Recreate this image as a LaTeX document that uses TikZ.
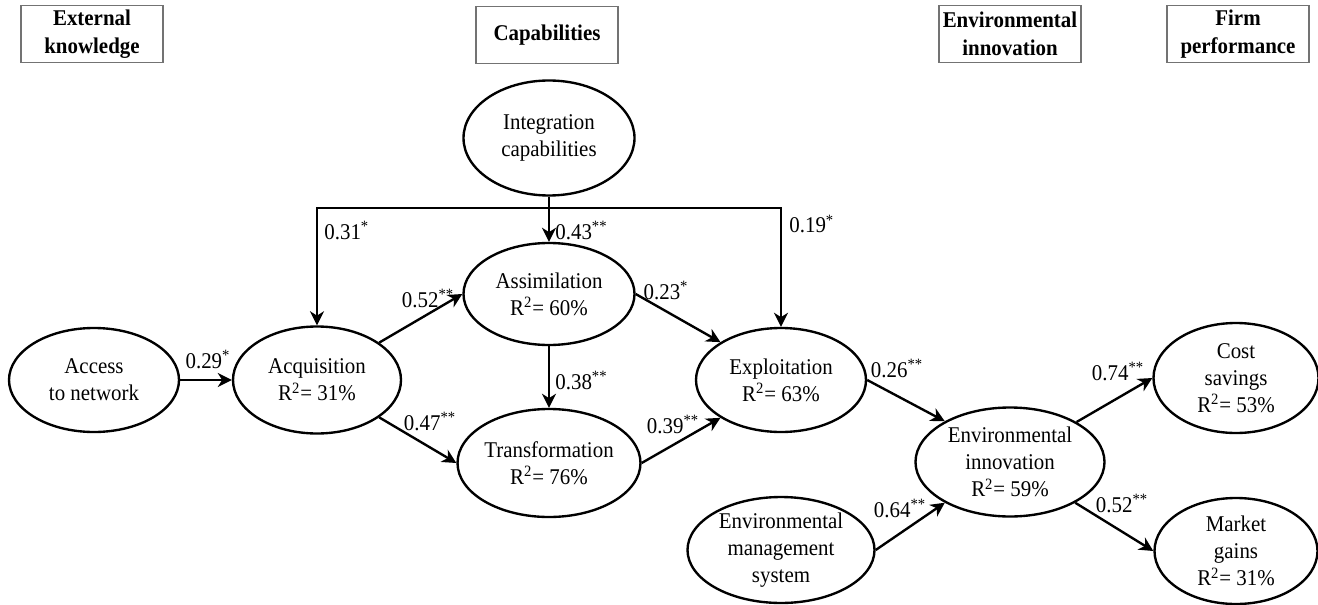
\documentclass[tikz,border=0pt]{standalone}
\usepackage{fontspec}
\setmainfont{Liberation Serif}[FakeStretch=0.93]
\usetikzlibrary{shapes.geometric,arrows.meta}

\newcommand{\rsq}[1]{R\textsuperscript{2}= #1\%}
\newcommand{\sg}[1]{\textsuperscript{#1}}

\begin{document}
\begin{tikzpicture}[
    font=\fontsize{12.8}{15.5}\selectfont,
    latent/.style={draw, ellipse, line width=1.35pt, inner sep=0pt, align=center, minimum width=3.4cm, minimum height=2.1cm},
    header/.style={draw=black!55, line width=0.9pt, align=center, font=\fontsize{12.8}{16}\selectfont\bfseries, minimum width=2.84cm, minimum height=1.14cm, inner sep=1pt},
    arr/.style={-{Stealth[length=8pt,width=8pt,inset=2.5pt]}, line width=1.35pt},
    coef/.style={inner sep=0pt}
]
    \useasboundingbox (0,0) rectangle (26.36,-12.1);

    \node[header] (hext) at (1.84,-0.68) {External\\knowledge};
    \node[header] (hcap) at (10.94,-0.70) {Capabilities};
    \node[header] (henv) at (20.20,-0.68) {Environmental\\innovation};
    \node[header] (hfirm) at (24.76,-0.68) {Firm\\performance};

    \node[latent, minimum width=3.42cm, minimum height=2.3cm] (int) at (10.98,-2.76) {Integration\\capabilities};
    \node[latent, minimum height=2.08cm] (acc) at (1.88,-7.6) {Access\\to network};
    \node[latent, minimum width=3.36cm, minimum height=2.14cm] (acq) at (6.34,-7.6) {Acquisition\\\rsq{31}};
    \node[latent, minimum width=3.42cm, minimum height=2.04cm] (asm) at (10.98,-5.88) {Assimilation\\\rsq{60}};
    \node[latent, minimum height=2.16cm] (trf) at (10.98,-9.26) {Transformation\\\rsq{76}};
    \node[latent, minimum height=2.08cm] (exp) at (15.62,-7.6) {Exploitation\\\rsq{63}};
    \node[latent, minimum width=3.78cm, minimum height=2.18cm] (env) at (20.2,-9.24) {Environmental\\innovation\\\rsq{59}};
    \node[latent, minimum width=3.74cm, minimum height=2.0cm] (ems) at (15.62,-11.0) {Environmental\\management\\system};
    \node[latent, minimum width=3.3cm, minimum height=2.2cm] (cost) at (24.72,-7.56) {Cost\\savings\\\rsq{53}};
    \node[latent, minimum width=3.26cm, minimum height=2.12cm] (mkt) at (24.72,-11.02) {Market\\gains\\\rsq{31}};

    \coordinate (bar) at (0,-4.16);
    \draw[arr] (int) -- (asm);
    \draw[arr] (asm |- bar) -| (acq);
    \draw[arr] (asm |- bar) -| (exp);

    \draw[arr] (acc) -- (acq);
    \draw[arr] (acq.31) -- (asm.west);
    \draw[arr] (acq.-31) -- (trf.west);
    \draw[arr] (asm) -- (trf);
    \draw[arr] (asm.east) -- (exp.148);
    \draw[arr] (trf.east) -- (exp.212);
    \draw[arr] (exp.east) -- (env.148);
    \draw[arr] (ems.east) -- (env.212);
    \draw[arr] (env.31) -- (cost.west);
    \draw[arr] (env.-32) -- (mkt.west);

    \node[coef, anchor=base] (l29) at (4.16,-7.36) {0.29\sg{*}};
    \node[coef, anchor=base west] (l31) at (6.48,-4.78) {0.31\sg{*}};
    \node[coef, anchor=base west] (l43) at (11.1,-4.78) {0.43\sg{**}};
    \node[coef, anchor=base west] (l19) at (15.78,-4.66) {0.19\sg{*}};
    \node[coef, anchor=base] (l52a) at (8.56,-6.14) {0.52\sg{**}};
    \node[coef, anchor=base] (l47) at (8.6,-8.6) {0.47\sg{**}};
    \node[coef, anchor=base west] (l38) at (11.1,-7.78) {0.38\sg{**}};
    \node[coef, anchor=base] (l23) at (13.32,-5.98) {0.23\sg{*}};
    \node[coef, anchor=base] (l39) at (13.46,-8.66) {0.39\sg{**}};
    \node[coef, anchor=base] (l26) at (17.94,-7.54) {0.26\sg{**}};
    \node[coef, anchor=base] (l74) at (22.36,-7.6) {0.74\sg{**}};
    \node[coef, anchor=base] (l64) at (18.0,-10.34) {0.64\sg{**}};
    \node[coef, anchor=base] (l52b) at (22.44,-10.24) {0.52\sg{**}};
\end{tikzpicture}
\end{document}
